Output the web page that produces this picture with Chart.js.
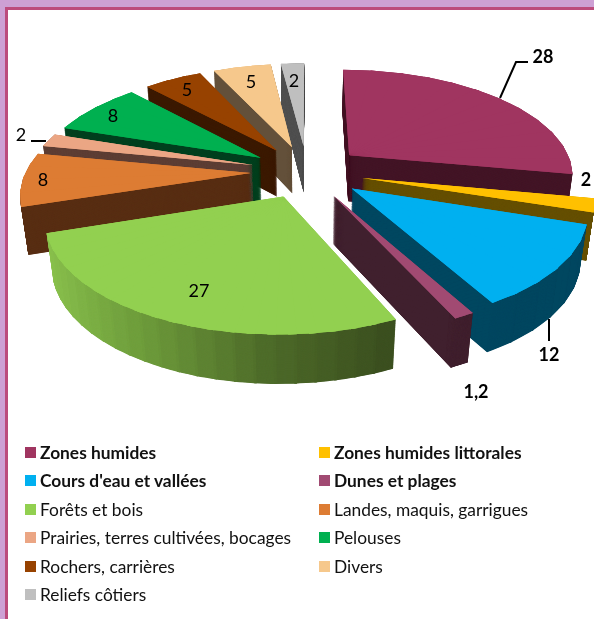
<!DOCTYPE html>
<html lang="fr"><head><meta charset="utf-8">
<script src="https://cdn.jsdelivr.net/npm/chart.js@4"></script>
<style>
html,body{margin:0;padding:0;background:#CDA0D4;width:594px;height:619px;overflow:hidden}
#frame{position:absolute;left:5px;top:7px;width:600px;height:620px;background:#fff;border:3px solid #BC4B7C;box-sizing:border-box}
canvas{position:absolute;left:0;top:0}
#legend{position:absolute;left:25px;top:438px;display:grid;grid-template-columns:294px 260px;grid-auto-rows:28.5px;font:17.35px Lato,sans-serif;color:#111}
#legend div{display:flex;align-items:center;white-space:nowrap}
#legend i{display:block;width:11px;height:11px;margin-right:4px}
</style></head><body>
<div id="frame"></div>
<canvas id="c" width="594" height="619"></canvas>
<div id="legend"></div>
<script>
const categories=["Zones humides","Zones humides littorales","Cours d'eau et vallées","Dunes et plages","Forêts et bois","Landes, maquis, garrigues","Prairies, terres cultivées, bocages","Pelouses","Rochers, carrières","Divers","Reliefs côtiers"];
const values=[28,2,12,1.2,27,8,2,8,5,5,2];
const valueLabels=["28","2","12","1,2","27","8","2","8","5","5","2"];
const boldItems=[0,1,2,3];
const topColors=["#A03560","#FFC000","#00B0F0","#A14A72","#92D050","#DD7C33","#EBA684","#00B050","#974200","#F6C88C","#BFBFBF"];
const wallColors=["#431526","#665000","#004760","#40202E",null,"#582E13","#5E3F35","#00401F","#3C1A00","#63503A","#505050"];
const forestWallStops=[[139,195,78],[110,156,60],[77,106,41],[58,77,31]];
const explosion=[100,100,100,100,100,100,100,100,100,100,100];
const drawOrder=[10,9,8,7,6,5,4,0,1,2,3];
const labelSpots=[[543,57],[586,180],[549,355],[476,392],[199,291],[43,180],[21,135],[113,116],[187,90],[251,82],[294,81]];
const leaderLines=[[[500,98],[516,62],[528,62]],[[549,319],[549,341]],[[31,141],[46,141]]];

const view={cx:307,cy:171.5,A:225,B:105,p:.17,q:.025,D:47,Dv:6};
function project(u,v,t){
  const w=1-view.p*v+view.q*t;
  return [view.cx+view.A*u/w, view.cy+view.B*v/w+(view.D+view.Dv*v)*t];
}
// Maps the element's current sub-sector onto the projected pie plane.
function place(ctx,el,t,pu,pv){
  const h=(el.startAngle+el.endAngle)/2,R=el.outerRadius,off=(el.options.offset||0)/4;
  const a0=el.startAngle,a1=el.endAngle,circ=a1-a0;
  const rf=off*(1-Math.sin(Math.min(Math.PI,circ))),Rs=R+rf;
  const beta=Math.max(.001,circ*Rs-rf/Math.PI)/Rs,ao=(circ-beta)/2;
  const b0=a0+ao,b1=a1-ao;
  const sx=el.x+Math.cos(h)*off,sy=el.y+Math.sin(h)*off;
  const D0=project(pu,pv,t),D1=project(pu+Math.cos(a0),pv+Math.sin(a0),t),D2=project(pu+Math.cos(a1),pv+Math.sin(a1),t);
  const s1x=Rs*Math.cos(b0),s1y=Rs*Math.sin(b0),s2x=Rs*Math.cos(b1),s2y=Rs*Math.sin(b1);
  const d1x=D1[0]-D0[0],d1y=D1[1]-D0[1],d2x=D2[0]-D0[0],d2y=D2[1]-D0[1];
  const det=s1x*s2y-s2x*s1y;
  const a=(d1x*s2y-d2x*s1y)/det,c=(d2x*s1x-d1x*s2x)/det,b=(d1y*s2y-d2y*s1y)/det,d=(d2y*s1x-d1y*s2x)/det;
  ctx.setTransform(a,b,c,d,D0[0]-a*sx-c*sy,D0[1]-b*sx-d*sy);
}
function forestWall(angle){
  const f=Math.min(.999,Math.max(0,(Math.cos(angle)+.96)/1.4));
  const s=forestWallStops,x=f*(s.length-1),k=Math.floor(x),m=x-k;
  return 'rgb('+s[k].map((c,j)=>Math.round(c+(s[k+1][j]-c)*m)).join(',')+')';
}
const pie3d={id:'pie3d',
  beforeDatasetsDraw(chart){
    const ctx=chart.ctx,arcs=chart.getDatasetMeta(0).data;
    ctx.save();
    drawOrder.forEach(i=>{
      const el=arcs[i],saved=el.options,s0=el.startAngle,e0=el.endAngle,c0=el.circumference;
      const h=(s0+e0)/2,e=(saved.offset/4)/el.outerRadius,pu=Math.cos(h)*e,pv=Math.sin(h)*e;
      const stepMax=wallColors[i]?.15:.075;
      const n=Math.ceil((e0-s0)/stepMax),step=(e0-s0)/n;
      const sector=(j,extra)=>{
        el.startAngle=s0+j*step;el.endAngle=Math.min(e0,s0+(j+1)*step+extra);el.circumference=el.endAngle-el.startAngle;
      };
      const N=n===1?300:120;
      for(let k=N;k>0;k--){
        for(let j=0;j<n;j++){
          sector(j,j<n-1?.01:0);
          const wall=wallColors[i]||forestWall(s0+(j+.5)*step);
          el.options=Object.assign({},saved,{backgroundColor:wall});
          ctx.save();place(ctx,el,k/N,pu,pv);el.draw(ctx);ctx.restore();
        }
      }
      el.options=saved;
      for(let pass=0;pass<2;pass++){
        for(let j=0;j<n;j++){
          sector(j,j<n-1?.03:0);
          ctx.save();place(ctx,el,0,pu,pv);el.draw(ctx);ctx.restore();
        }
      }
      el.startAngle=s0;el.endAngle=e0;el.circumference=c0;
    });
    ctx.restore();
    ctx.setTransform(1,0,0,1,0,0);
    return false;
  },
  afterDraw(chart){
    const ctx=chart.ctx;
    ctx.save();ctx.setTransform(1,0,0,1,0,0);
    ctx.strokeStyle='#000';ctx.lineWidth=2;
    leaderLines.forEach(l=>{ctx.beginPath();l.forEach((p,i)=>i?ctx.lineTo(p[0],p[1]):ctx.moveTo(p[0],p[1]));ctx.stroke();});
    ctx.textAlign='center';ctx.textBaseline='middle';ctx.fillStyle='#000';
    valueLabels.forEach((t,i)=>{
      ctx.font=(boldItems.includes(i)?'bold ':'')+'18px Lato, sans-serif';
      ctx.fillText(t,labelSpots[i][0],labelSpots[i][1]);
    });
    ctx.restore();
  }
};
Chart.defaults.animation=false;
new Chart(document.getElementById('c'),{
  type:'pie',
  data:{labels:categories,datasets:[{data:values,backgroundColor:topColors,borderWidth:0,offset:explosion}]},
  options:{responsive:false,devicePixelRatio:1,radius:100,animation:false,
    plugins:{legend:{display:false},tooltip:{enabled:false}}},
  plugins:[pie3d]
});
const lg=document.getElementById('legend');
categories.forEach((n,i)=>{
  const d=document.createElement('div');
  if(boldItems.includes(i))d.style.fontWeight='bold';
  const s=document.createElement('i');s.style.background=topColors[i];
  d.appendChild(s);d.appendChild(document.createTextNode(n));lg.appendChild(d);
});
</script>
</body></html>
